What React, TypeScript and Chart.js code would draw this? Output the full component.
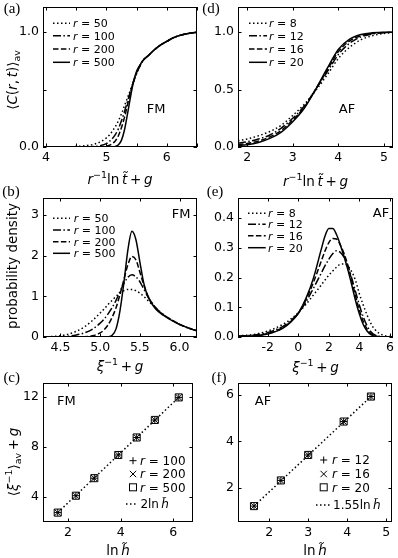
import React, { useEffect, useRef } from "react";
import { Chart, registerables } from "chart.js";
Chart.register(...registerables);

const FONT = "DejaVu Sans";
const SERIF = "Liberation Serif";
const TICK_SIZE = 12.5;
const TITLE_SIZE = 13.5;
const LEG_SIZE = 11;
const SCAT_LEG_SIZE = 12;
const NOTE_SIZE = 13;

// ---------------- data: panel (a) FM <C(r,t)>_av ----------------
const aX = [3.95, 4.2, 4.4, 4.6, 4.8, 4.9, 5.0, 5.05, 5.1, 5.15, 5.2, 5.25, 5.3, 5.35, 5.4, 5.45, 5.5, 5.55, 5.6, 5.7, 5.8, 5.9, 6.0, 6.1, 6.2, 6.3, 6.4, 6.5];
const aR50 = [0, 0, 0.002, 0.008, 0.025, 0.045, 0.08, 0.105, 0.14, 0.18, 0.23, 0.29, 0.36, 0.43, 0.5, 0.57, 0.64, 0.7, 0.75, 0.8, 0.85, 0.89, 0.92, 0.95, 0.97, 0.983, 0.993, 1.0];
const aR100 = [0, 0, 0, 0, 0.004, 0.012, 0.03, 0.05, 0.075, 0.11, 0.16, 0.23, 0.31, 0.4, 0.49, 0.57, 0.64, 0.7, 0.75, 0.8, 0.85, 0.89, 0.92, 0.95, 0.97, 0.983, 0.993, 1.0];
const aR200 = [0, 0, 0, 0, 0, 0.002, 0.008, 0.015, 0.03, 0.055, 0.1, 0.17, 0.26, 0.37, 0.48, 0.575, 0.65, 0.705, 0.75, 0.8, 0.85, 0.89, 0.92, 0.95, 0.97, 0.983, 0.993, 1.0];
const aR500 = [0, 0, 0, 0, 0, 0, 0, 0, 0, 0.005, 0.02, 0.06, 0.15, 0.29, 0.44, 0.57, 0.66, 0.71, 0.75, 0.8, 0.85, 0.89, 0.92, 0.95, 0.97, 0.983, 0.993, 1.0];

// ---------------- data: panel (b) FM probability density ----------------
const bX = [4.28, 4.4, 4.5, 4.6, 4.7, 4.8, 4.9, 5.0, 5.05, 5.1, 5.15, 5.2, 5.25, 5.3, 5.35, 5.4, 5.45, 5.5, 5.55, 5.6, 5.7, 5.8, 5.9, 6.0, 6.1, 6.22];
const bR50 = [0.005, 0.012, 0.03, 0.07, 0.14, 0.25, 0.4, 0.59, 0.69, 0.8, 0.9, 1.0, 1.08, 1.14, 1.17, 1.17, 1.14, 1.08, 1.0, 0.9, 0.72, 0.55, 0.42, 0.31, 0.23, 0.15];
const bR100 = [0, 0.003, 0.008, 0.02, 0.05, 0.1, 0.19, 0.34, 0.44, 0.57, 0.72, 0.9, 1.12, 1.32, 1.47, 1.53, 1.48, 1.36, 1.18, 1.0, 0.72, 0.54, 0.42, 0.31, 0.23, 0.15];
const bR200 = [0, 0, 0, 0, 0, 0.005, 0.03, 0.1, 0.18, 0.3, 0.48, 0.72, 1.05, 1.42, 1.78, 1.98, 1.9, 1.6, 1.28, 1.02, 0.71, 0.54, 0.42, 0.31, 0.23, 0.15];
const bR500 = [0, 0, 0, 0, 0, 0, 0, 0, 0, 0.005, 0.04, 0.2, 0.65, 1.35, 2.15, 2.6, 2.4, 1.85, 1.32, 1.0, 0.69, 0.53, 0.41, 0.31, 0.23, 0.15];

// ---------------- data: panel (c) FM <xi^-1>_av + g vs ln h ----------------
const cLnH = [1.61, 2.3, 3.0, 3.91, 4.61, 5.3, 6.21];
const cR100 = [2.75, 4.1, 5.5, 7.35, 8.75, 10.15, 11.95];
const cR200 = [2.75, 4.1, 5.5, 7.35, 8.75, 10.15, 11.95];
const cR500 = [2.75, 4.1, 5.5, 7.35, 8.75, 10.15, 11.95];
const cFitX = [1.61, 6.21];
const cFitY = [2.75, 11.95];

// ---------------- data: panel (d) AF <C(r,t)>_av ----------------
const dX = [1.8, 2.0, 2.25, 2.5, 2.75, 3.0, 3.25, 3.5, 3.75, 4.0, 4.25, 4.5, 4.75, 5.0, 5.2];
const dR8 = [0.055, 0.07, 0.098, 0.135, 0.19, 0.275, 0.37, 0.49, 0.625, 0.77, 0.87, 0.935, 0.97, 0.99, 0.997];
const dR12 = [0.032, 0.045, 0.07, 0.105, 0.165, 0.25, 0.355, 0.5, 0.65, 0.805, 0.905, 0.96, 0.985, 0.996, 1.0];
const dR16 = [0.02, 0.03, 0.052, 0.088, 0.145, 0.235, 0.345, 0.5, 0.665, 0.83, 0.925, 0.97, 0.99, 0.998, 1.0];
const dR20 = [0.012, 0.02, 0.04, 0.075, 0.13, 0.22, 0.335, 0.5, 0.68, 0.85, 0.94, 0.98, 0.995, 1.0, 1.0];

// ---------------- data: panel (e) AF probability density ----------------
const eX = [-3.95, -3, -2, -1.5, -1, -0.5, 0, 0.5, 1, 1.5, 1.75, 2, 2.25, 2.5, 2.75, 3, 3.25, 3.5, 3.75, 4, 4.25, 4.5, 4.75, 5, 5.5, 6.2];
const eR8 = [0.004, 0.008, 0.02, 0.03, 0.043, 0.06, 0.082, 0.11, 0.142, 0.175, 0.192, 0.208, 0.222, 0.235, 0.245, 0.246, 0.238, 0.22, 0.19, 0.145, 0.108, 0.074, 0.046, 0.026, 0.007, 0.0005];
const eR12 = [0.003, 0.006, 0.015, 0.024, 0.036, 0.055, 0.08, 0.118, 0.165, 0.215, 0.24, 0.262, 0.28, 0.29, 0.285, 0.268, 0.238, 0.198, 0.152, 0.107, 0.068, 0.038, 0.018, 0.007, 0.001, 0];
const eR16 = [0.002, 0.004, 0.012, 0.02, 0.032, 0.052, 0.08, 0.125, 0.185, 0.255, 0.29, 0.318, 0.332, 0.33, 0.31, 0.28, 0.24, 0.19, 0.138, 0.09, 0.053, 0.027, 0.012, 0.004, 0.0005, 0];
const eR20 = [0.001, 0.003, 0.01, 0.018, 0.03, 0.05, 0.08, 0.13, 0.2, 0.295, 0.34, 0.365, 0.365, 0.345, 0.31, 0.27, 0.225, 0.175, 0.122, 0.077, 0.042, 0.02, 0.008, 0.003, 0, 0];

// ---------------- data: panel (f) AF <xi^-1>_av + g vs ln h ----------------
const fLnH = [1.61, 2.3, 3.0, 3.91, 4.61];
const fR12 = [1.23, 2.33, 3.42, 4.85, 5.92];
const fR16 = [1.23, 2.33, 3.42, 4.85, 5.92];
const fR20 = [1.23, 2.33, 3.42, 4.85, 5.92];
const fFitX = [1.61, 4.61];
const fFitY = [1.23, 5.92];

// ---------------- legend labels ----------------
const fmSizes = ["50", "100", "200", "500"];
const afSizes = ["8", "12", "16", "20"];
const fmScatterSizes = ["100", "200", "500"];
const afScatterSizes = ["12", "16", "20"];

// ---------------- styles ----------------
const DOT = [1.5, 2.5];
const DASHDOT = [8, 2.4, 1.5, 2.4];
const DASH = [5.5, 2.4];
const SOLID: number[] = [];
const LINE_DASHES = [DOT, DASHDOT, DASH, SOLID];
const THIN = "\u2009";

type Seg = { t: string; it?: boolean; sup?: boolean; sub?: boolean };

function segFont(size: number, s: Seg) {
  const sz = s.sup || s.sub ? size * 0.7 : size;
  return `${s.it ? "italic " : ""}${sz}px "${FONT}"`;
}
function richWidth(ctx: CanvasRenderingContext2D, segs: Seg[], size: number) {
  let w = 0;
  for (const s of segs) {
    ctx.font = segFont(size, s);
    w += ctx.measureText(s.t).width;
  }
  return w;
}
function drawRich(ctx: CanvasRenderingContext2D, segs: Seg[], x: number, yCenter: number, size: number, align: "left" | "center" = "left") {
  ctx.save();
  ctx.textBaseline = "alphabetic";
  ctx.textAlign = "left";
  ctx.fillStyle = "#000";
  const base = yCenter + size * 0.36;
  let cx = align === "center" ? x - richWidth(ctx, segs, size) / 2 : x;
  for (const s of segs) {
    ctx.font = segFont(size, s);
    const dy = s.sup ? -size * 0.42 : s.sub ? size * 0.22 : 0;
    ctx.fillText(s.t, cx, base + dy);
    cx += ctx.measureText(s.t).width;
  }
  ctx.restore();
}
function drawRotated(ctx: CanvasRenderingContext2D, segs: Seg[], cx: number, cy: number, size: number) {
  ctx.save();
  ctx.translate(cx, cy);
  ctx.rotate(-Math.PI / 2);
  drawRich(ctx, segs, 0, 0, size, "center");
  ctx.restore();
}
function line(ctx: CanvasRenderingContext2D, x1: number, y1: number, x2: number, y2: number) {
  ctx.beginPath();
  ctx.moveTo(x1, y1);
  ctx.lineTo(x2, y2);
  ctx.stroke();
}
function marker(ctx: CanvasRenderingContext2D, kind: number, x: number, y: number) {
  ctx.save();
  ctx.strokeStyle = "#000";
  ctx.lineWidth = 1;
  ctx.setLineDash([]);
  if (kind === 0) {
    line(ctx, x - 3.5, y, x + 3.5, y);
    line(ctx, x, y - 3.5, x, y + 3.5);
  } else if (kind === 1) {
    line(ctx, x - 3.2, y - 3.2, x + 3.2, y + 3.2);
    line(ctx, x - 3.2, y + 3.2, x + 3.2, y - 3.2);
  } else {
    ctx.strokeRect(x - 3.5, y - 3.5, 7, 7);
  }
  ctx.restore();
}
const rLabel = (v: string): Seg[] => [{ t: "r", it: true }, { t: " = " + v }];

type Area = { left: number; top: number; right: number; bottom: number };
type AxisSpec = { min: number; max: number; step: number; fmt: (v: number) => string };
type PanelSpec = {
  left: number;
  top: number;
  w: number;
  h: number;
  area: { l: number; t: number; r: number; b: number };
  type: "line" | "scatter";
  x: AxisSpec;
  y: AxisSpec;
  datasets: any[];
  extras: (ctx: CanvasRenderingContext2D, a: Area) => void;
};

const fixed = (d: number) => (v: number) => {
  const n = Math.abs(v) < 1e-9 ? 0 : v;
  return (n < 0 ? "-" : "") + Math.abs(n).toFixed(d);
};
const only = (vals: number[], f: (v: number) => string) => (v: number) => (vals.some((u) => Math.abs(u - v) < 1e-6) ? f(v) : "");

function curve(xs: number[], ys: number[], dash: number[]) {
  return {
    type: "line",
    data: xs.map((x, i) => ({ x, y: ys[i] })),
    borderColor: "#000",
    borderWidth: 1.5,
    borderDash: dash,
    pointRadius: 0,
    fill: false,
    cubicInterpolationMode: "monotone",
  };
}
function pts(xs: number[], ys: number[], style: string, radius: number) {
  return {
    type: "scatter",
    data: xs.map((x, i) => ({ x, y: ys[i] })),
    borderColor: "#000",
    backgroundColor: "rgba(0,0,0,0)",
    borderWidth: 1,
    pointStyle: style,
    pointRadius: radius,
    showLine: false,
  };
}

function lineLegend(ctx: CanvasRenderingContext2D, a: Area, x1: number, x2: number, tx: number, rows: number[], labels: string[]) {
  ctx.save();
  ctx.strokeStyle = "#000";
  ctx.lineWidth = 1.5;
  rows.forEach((ry, i) => {
    ctx.setLineDash(LINE_DASHES[i]);
    line(ctx, a.left + x1, a.top + ry, a.left + x2, a.top + ry);
    drawRich(ctx, rLabel(labels[i]), a.left + tx, a.top + ry, LEG_SIZE);
  });
  ctx.restore();
}
function scatterLegend(ctx: CanvasRenderingContext2D, a: Area, mx: number, tx: number, rows: number[], labels: string[], fitLabel: Seg[], lx1: number, lx2: number, ftx: number) {
  ctx.save();
  for (let i = 0; i < 3; i++) {
    marker(ctx, i, a.left + mx, a.top + rows[i]);
    drawRich(ctx, rLabel(labels[i]), a.left + tx, a.top + rows[i], SCAT_LEG_SIZE);
  }
  ctx.strokeStyle = "#000";
  ctx.lineWidth = 1.5;
  ctx.setLineDash(DOT);
  line(ctx, a.left + lx1, a.top + rows[3], a.left + lx2, a.top + rows[3]);
  drawRich(ctx, fitLabel, a.left + ftx, a.top + rows[3], SCAT_LEG_SIZE);
  ctx.restore();
}
function note(ctx: CanvasRenderingContext2D, text: string, x: number, y: number) {
  ctx.save();
  ctx.font = `${NOTE_SIZE}px "${FONT}"`;
  ctx.fillStyle = "#000";
  ctx.textAlign = "center";
  ctx.textBaseline = "middle";
  ctx.fillText(text, x, y);
  ctx.restore();
}
function panelLabel(ctx: CanvasRenderingContext2D, text: string, x: number, y: number) {
  ctx.save();
  ctx.font = `15px "${SERIF}"`;
  ctx.fillStyle = "#000";
  ctx.textAlign = "center";
  ctx.textBaseline = "middle";
  ctx.fillText(text, x, y);
  ctx.restore();
}

const xTitleC: Seg[] = [{ t: "r", it: true }, { t: "\u22121", sup: true }, { t: "ln" + THIN }, { t: "t\u0303", it: true }, { t: THIN + "+" + THIN }, { t: "g", it: true }];
const yTitleC: Seg[] = [{ t: "\u27E8" }, { t: "C", it: true }, { t: "(" }, { t: "r", it: true }, { t: "," + THIN }, { t: "t", it: true }, { t: ")\u27E9" }, { t: "av", sub: true }];
const xTitleP: Seg[] = [{ t: "\u03BE", it: true }, { t: "\u22121", sup: true }, { t: THIN + "+" + THIN }, { t: "g", it: true }];
const xTitleH: Seg[] = [{ t: "ln" + THIN }, { t: "h\u0303", it: true }];
const yTitleXi: Seg[] = [{ t: "\u27E8" }, { t: "\u03BE", it: true }, { t: "\u22121", sup: true }, { t: "\u27E9" }, { t: "av", sub: true }, { t: THIN + "+" + THIN }, { t: "g", it: true }];

const panels: PanelSpec[] = [
  {
    left: 0, top: 0, w: 199, h: 192,
    area: { l: 43, t: 7, r: 197, b: 147 },
    type: "line",
    x: { min: 3.95, max: 6.5, step: 0.5, fmt: only([4, 5, 6], fixed(0)) },
    y: { min: 0, max: 1.22, step: 0.5, fmt: only([0, 1], fixed(1)) },
    datasets: [curve(aX, aR50, DOT), curve(aX, aR100, DASHDOT), curve(aX, aR200, DASH), curve(aX, aR500, SOLID)],
    extras: (ctx, a) => {
      lineLegend(ctx, a, 10, 27, 30, [16.3, 28.7, 42, 55.3], fmSizes);
      note(ctx, "FM", a.left + 113, a.top + 103);
      panelLabel(ctx, "(a)", 12, 9);
      drawRich(ctx, xTitleC, (a.left + a.right) / 2, 179, TITLE_SIZE, "center");
      drawRotated(ctx, yTitleC, 12, 80, TITLE_SIZE);
    },
  },
  {
    left: 199, top: 0, w: 199, h: 192,
    area: { l: 39, t: 7, r: 194, b: 147 },
    type: "line",
    x: { min: 1.8, max: 5.2, step: 1, fmt: fixed(0) },
    y: { min: 0, max: 1.22, step: 0.5, fmt: fixed(1) },
    datasets: [curve(dX, dR8, DOT), curve(dX, dR12, DASHDOT), curve(dX, dR16, DASH), curve(dX, dR20, SOLID)],
    extras: (ctx, a) => {
      lineLegend(ctx, a, 11, 29, 31, [16.3, 28.7, 42, 55.3], afSizes);
      note(ctx, "AF", a.left + 109, a.top + 103);
      panelLabel(ctx, "(d)", 12, 9);
      drawRich(ctx, xTitleC, (a.left + a.right) / 2, 181, TITLE_SIZE, "center");
    },
  },
  {
    left: 0, top: 186, w: 199, h: 192,
    area: { l: 43, t: 12, r: 197, b: 151 },
    type: "line",
    x: { min: 4.28, max: 6.22, step: 0.5, fmt: fixed(1) },
    y: { min: 0, max: 3.42, step: 1, fmt: fixed(0) },
    datasets: [curve(bX, bR50, DOT), curve(bX, bR100, DASHDOT), curve(bX, bR200, DASH), curve(bX, bR500, SOLID)],
    extras: (ctx, a) => {
      lineLegend(ctx, a, 10, 27, 30.7, [20.3, 32, 43.7, 55.3], fmSizes);
      note(ctx, "FM", a.left + 138, a.top + 17);
      panelLabel(ctx, "(b)", 11, 6.5);
      drawRich(ctx, xTitleP, (a.left + a.right) / 2, 180, TITLE_SIZE, "center");
      drawRotated(ctx, [{ t: "probability density" }], 12, 80, TITLE_SIZE);
    },
  },
  {
    left: 199, top: 186, w: 199, h: 192,
    area: { l: 39, t: 12, r: 194, b: 151 },
    type: "line",
    x: { min: -3.95, max: 6.2, step: 2, fmt: fixed(0) },
    y: { min: 0, max: 0.468, step: 0.1, fmt: fixed(1) },
    datasets: [curve(eX, eR8, DOT), curve(eX, eR12, DASHDOT), curve(eX, eR16, DASH), curve(eX, eR20, SOLID)],
    extras: (ctx, a) => {
      lineLegend(ctx, a, 10, 27.7, 30, [15.3, 26.3, 37.7, 49.7], afSizes);
      note(ctx, "AF", a.left + 143, a.top + 15.5);
      panelLabel(ctx, "(e)", 16, 6.5);
      drawRich(ctx, xTitleP, (a.left + a.right) / 2, 181, TITLE_SIZE, "center");
    },
  },
  {
    left: 0, top: 372, w: 199, h: 186,
    area: { l: 43, t: 11, r: 197, b: 150 },
    type: "scatter",
    x: { min: 1.05, max: 6.75, step: 2, fmt: fixed(0) },
    y: { min: 2, max: 13.1, step: 4, fmt: fixed(0) },
    datasets: [
      pts(cLnH, cR100, "cross", 3.5),
      pts(cLnH, cR200, "crossRot", 4.5),
      pts(cLnH, cR500, "rect", 5),
      { ...curve(cFitX, cFitY, DOT), cubicInterpolationMode: "default", showLine: true },
    ],
    extras: (ctx, a) => {
      scatterLegend(ctx, a, 90, 97, [77.7, 91, 104.3, 121], fmScatterSizes, [{ t: "2ln" + THIN }, { t: "h\u0303", it: true }], 83, 95, 97.4);
      note(ctx, "FM", a.left + 23.4, a.top + 18.7);
      panelLabel(ctx, "(c)", 11.7, 6.3);
      drawRich(ctx, xTitleH, (a.left + a.right) / 2, 178, TITLE_SIZE, "center");
      drawRotated(ctx, yTitleXi, 13, 90, TITLE_SIZE);
    },
  },
  {
    left: 199, top: 372, w: 199, h: 186,
    area: { l: 39, t: 11, r: 194, b: 150 },
    type: "scatter",
    x: { min: 1.2, max: 5.15, step: 1, fmt: fixed(0) },
    y: { min: 0.55, max: 6.5, step: 2, fmt: fixed(0) },
    datasets: [
      pts(fLnH, fR12, "cross", 3.5),
      pts(fLnH, fR16, "crossRot", 4.5),
      pts(fLnH, fR20, "rect", 5),
      { ...curve(fFitX, fFitY, DOT), cubicInterpolationMode: "default", showLine: true },
    ],
    extras: (ctx, a) => {
      scatterLegend(ctx, a, 85.7, 94, [77, 91, 104.3, 122], afScatterSizes, [{ t: "1.55ln" + THIN }, { t: "h\u0303", it: true }], 78, 92, 95);
      note(ctx, "AF", a.left + 25, a.top + 18.7);
      panelLabel(ctx, "(f)", 20, 6.3);
      drawRich(ctx, xTitleH, (a.left + a.right) / 2, 178, TITLE_SIZE, "center");
    },
  },
];

function axisOptions(ax: AxisSpec, which: "x" | "y", size: number) {
  return {
    type: "linear",
    min: ax.min,
    max: ax.max,
    grid: { display: false, drawTicks: false },
    border: { display: false },
    ticks: {
      stepSize: ax.step,
      includeBounds: false,
      autoSkip: false,
      maxRotation: 0,
      minRotation: 0,
      color: "#000",
      font: { family: FONT, size: TICK_SIZE },
      padding: which === "x" ? 3 : 4,
      callback: (v: any) => ax.fmt(Number(v)),
    },
    afterFit: (sc: any) => {
      if (which === "x") sc.height = size;
      else sc.width = size;
      sc.paddingLeft = 0;
      sc.paddingRight = 0;
      sc.paddingTop = 0;
      sc.paddingBottom = 0;
    },
  };
}

function decorPlugin(spec: PanelSpec) {
  return {
    id: "decor",
    afterDraw(chart: any) {
      const ctx: CanvasRenderingContext2D = chart.ctx;
      const a: Area = chart.chartArea;
      ctx.save();
      ctx.strokeStyle = "#000";
      ctx.lineWidth = 1;
      ctx.setLineDash([]);
      ctx.strokeRect(a.left + 0.5, a.top + 0.5, a.right - a.left - 1, a.bottom - a.top - 1);
      const TL = 3.5;
      const xs = chart.scales.x;
      const ys = chart.scales.y;
      for (const t of xs.ticks) {
        const px = Math.round(xs.getPixelForValue(t.value)) + 0.5;
        line(ctx, px, a.bottom, px, a.bottom - TL);
        line(ctx, px, a.top, px, a.top + TL);
      }
      for (const t of ys.ticks) {
        const py = Math.round(ys.getPixelForValue(t.value)) + 0.5;
        line(ctx, a.left, py, a.left + TL, py);
        line(ctx, a.right, py, a.right - TL, py);
      }
      ctx.restore();
      spec.extras(ctx, a);
    },
  };
}

function Panel({ spec }: { spec: PanelSpec }) {
  const ref = useRef<HTMLCanvasElement>(null);
  useEffect(() => {
    const a = spec.area;
    const chart = new Chart(ref.current as HTMLCanvasElement, {
      type: spec.type,
      data: { datasets: spec.datasets },
      options: {
        animation: false,
        responsive: false,
        devicePixelRatio: 1,
        events: [],
        layout: { padding: { left: 0, top: a.t, right: spec.w - a.r, bottom: 0 } },
        plugins: { legend: { display: false }, tooltip: { enabled: false }, title: { display: false } },
        scales: {
          x: axisOptions(spec.x, "x", spec.h - a.b),
          y: axisOptions(spec.y, "y", a.l),
        },
      } as any,
      plugins: [decorPlugin(spec)],
    } as any);
    return () => chart.destroy();
  }, []);
  return (
    <canvas
      ref={ref}
      width={spec.w}
      height={spec.h}
      style={{ position: "absolute", left: spec.left, top: spec.top, width: spec.w, height: spec.h, display: "block" }}
    />
  );
}

export default function App() {
  return (
    <div style={{ position: "absolute", left: 0, top: 0, width: 398, height: 558, overflow: "hidden", background: "#fff" }}>
      {panels.map((p, i) => (
        <Panel key={i} spec={p} />
      ))}
    </div>
  );
}
